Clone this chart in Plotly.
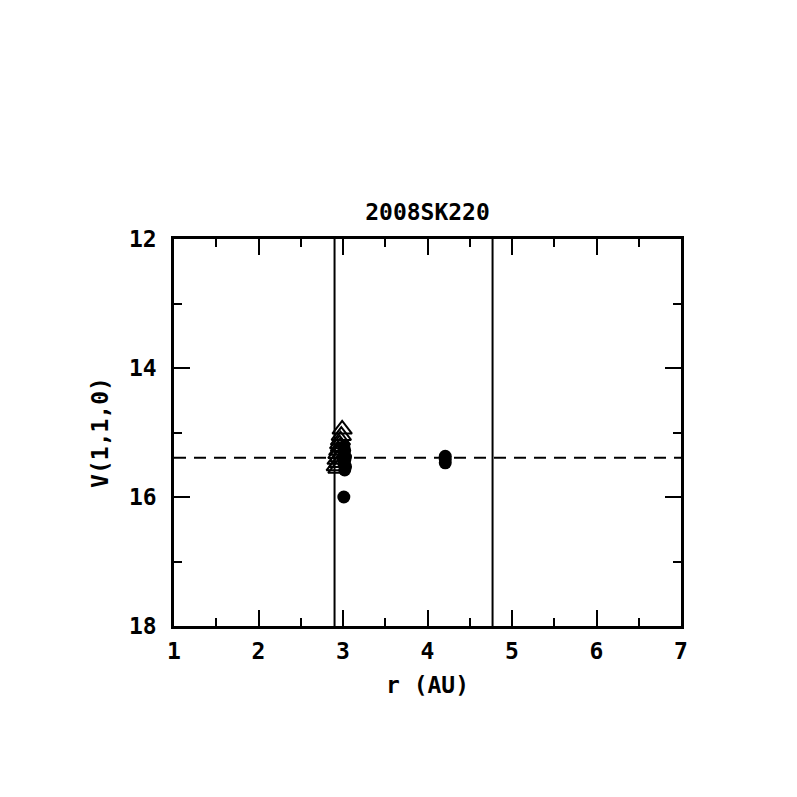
import plotly.graph_objects as go

title = "2008SK220"
x_label = "r (AU)"
y_label = "V(1,1,0)"

# open triangles
tri_r = [2.99, 2.98, 2.97, 2.96, 2.97, 2.95, 2.94, 2.96, 2.93, 2.95, 2.92, 2.94]
tri_v = [14.95, 15.05, 15.12, 15.18, 15.22, 15.28, 15.33, 15.38, 15.42, 15.47, 15.52, 15.56]

# filled circles
circ_r = [3.01, 3.02, 3.01, 3.03, 3.02, 3.01, 3.03, 3.02, 3.01, 4.21, 4.21, 4.21]
circ_v = [15.22, 15.28, 15.34, 15.38, 15.43, 15.48, 15.53, 15.58, 16.0, 15.37, 15.42, 15.47]

q_r = 2.90       # vertical line 1
Q_r = 4.77       # vertical line 2
h_mag = 15.39    # dashed horizontal line

x_range = [1, 7]
y_range = [18, 12]
x_ticks = [1, 2, 3, 4, 5, 6, 7]
y_ticks = [12, 14, 16, 18]

FONT = "DejaVu Sans Mono"
FS = 23

fig = go.Figure()

fig.add_trace(go.Scatter(
    x=tri_r, y=tri_v, mode="markers",
    marker=dict(symbol="triangle-up-open", size=17, color="black", line=dict(width=2)),
    showlegend=False))
fig.add_trace(go.Scatter(
    x=circ_r, y=circ_v, mode="markers",
    marker=dict(symbol="circle", size=13, color="black"),
    showlegend=False))

for xv in (q_r, Q_r):
    fig.add_shape(type="line", x0=xv, x1=xv, y0=0, y1=1, xref="x", yref="y domain",
                  line=dict(color="black", width=2))
fig.add_shape(type="line", x0=0, x1=1, y0=h_mag, y1=h_mag, xref="x domain", yref="y",
              line=dict(color="black", width=2, dash="12px,8px"))

axis_common = dict(
    showgrid=False, zeroline=False, showline=True, linecolor="black", linewidth=2.5,
    mirror="allticks", ticks="inside", ticklen=16, tickwidth=2, tickcolor="black",
    tickfont=dict(family=FONT, size=FS, color="black", weight="bold"),
)

fig.update_xaxes(range=x_range, tickvals=x_ticks, **axis_common, ticklabelstandoff=3,
                 minor=dict(dtick=0.5, ticks="inside", ticklen=8, tickwidth=2, tickcolor="black", showgrid=False),
                 title=dict(text=x_label, font=dict(family=FONT, size=FS, color="black", weight="bold"), standoff=14))
fig.update_yaxes(range=y_range, tickvals=y_ticks, **axis_common, ticklabelstandoff=10,
                 minor=dict(dtick=1, ticks="inside", ticklen=8, tickwidth=2, tickcolor="black", showgrid=False),
                 title=dict(text=y_label, font=dict(family=FONT, size=FS, color="black", weight="bold"), standoff=14))

fig.update_layout(
    width=797, height=797,
    margin=dict(l=166, r=124, t=231, b=179),
    paper_bgcolor="white", plot_bgcolor="white",
    title=dict(text=title, x=(166 + 673) / 2 / 797, xanchor="center", y=1 - 204 / 797, yanchor="middle",
               font=dict(family=FONT, size=FS, color="black", weight="bold")),
)

fig.write_html("out.html")
